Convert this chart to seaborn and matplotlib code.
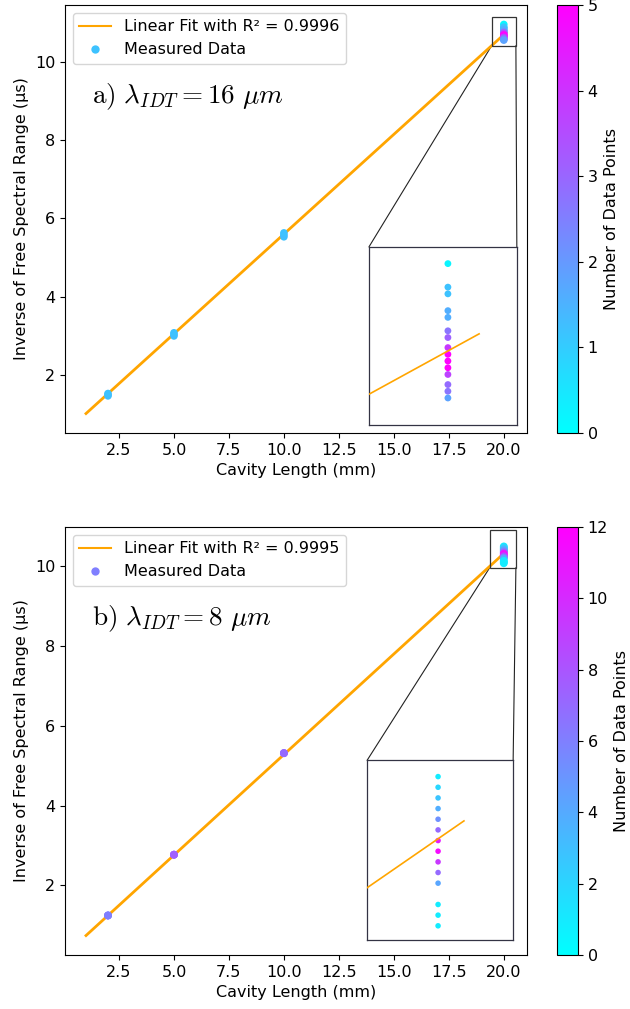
import numpy as np
import pandas as pd
import matplotlib
matplotlib.use("Agg")
import matplotlib.pyplot as plt
from matplotlib.colors import Normalize
from matplotlib.cm import ScalarMappable
from matplotlib.lines import Line2D
from matplotlib.patches import Rectangle, ConnectionPatch
import seaborn as sns

plt.rcParams["mathtext.fontset"] = "cm"
plt.rcParams["font.size"] = 11.5

# ---------------- a) lambda_IDT = 16 um ----------------
len_a = [2, 2, 2, 5, 5, 5, 10, 10, 10,
         20, 20, 20, 20, 20, 20, 20, 20, 20, 20, 20, 20, 20, 20, 20]
inv_fsr_a = [1.47, 1.50, 1.53, 3.00, 3.04, 3.08, 5.53, 5.58, 5.63,
             10.95, 10.88, 10.86, 10.81, 10.79, 10.75, 10.73, 10.70,
             10.68, 10.66, 10.64, 10.62, 10.59, 10.57, 10.55]
count_a = [1.2, 1.3, 1.2, 1.2, 1.3, 1.2, 1.2, 1.3, 1.2,
           0.2, 1.2, 1.2, 1.6, 1.6, 2.7, 3.1, 3.9, 5.0, 5.0, 5.0,
           3.7, 2.9, 2.7, 1.8]
fit_a = [0.509, 0.51]          # slope (us/mm), intercept (us)
r2_a = "0.9996"
cmax_a = 5

# ---------------- b) lambda_IDT = 8 um ----------------
len_b = [2, 2, 2, 5, 5, 5, 10, 10, 10,
         20, 20, 20, 20, 20, 20, 20, 20, 20, 20, 20, 20, 20, 20]
inv_fsr_b = [1.25, 1.25, 1.25, 2.77, 2.77, 2.77, 5.31, 5.31, 5.31,
             10.48, 10.45, 10.42, 10.39, 10.36, 10.33, 10.30, 10.27,
             10.24, 10.21, 10.18, 10.12, 10.09, 10.06]
count_b = [6.0, 6.0, 6.0, 7.5, 7.5, 7.5, 7.0, 7.0, 7.0,
           0.9, 1.9, 2.8, 3.8, 5.2, 7.0, 10.8, 11.5, 9.4, 7.0, 4.2,
           0.9, 0.9, 0.9]
fit_b = [0.503, 0.245]
r2_b = "0.9995"
cmax_b = 12

fit_span = [1.0, 20.1]          # x-range of the drawn fit line (mm)

cmap = plt.get_cmap("cool")

fig = plt.figure(figsize=(6.3, 10.09), dpi=100)
W, H = 630, 1009


def fig_rect(x0, y0, x1, y1):
    return [x0 / W, 1 - y1 / H, (x1 - x0) / W, (y1 - y0) / H]


panels = [
    dict(x=len_a, y=inv_fsr_a, c=count_a, fit=fit_a, r2=r2_a, cmax=cmax_a,
         ax=fig_rect(65, 5, 527, 433), cax=fig_rect(557, 5, 578, 433),
         tag=r"$\mathrm{a)}\ \lambda_{IDT} = 16\ \mu m$",
         ins_pos=[0.658, 0.019, 0.320, 0.416],
         ins_xlim=(19.747, 20.221), ins_ylim=(10.47, 11.0),
         box=(19.45, 10.41, 1.10, 0.73), s_main=30, s_ins=24,
         cticks=[0, 1, 2, 3, 4, 5]),
    dict(x=len_b, y=inv_fsr_b, c=count_b, fit=fit_b, r2=r2_b, cmax=cmax_b,
         ax=fig_rect(65, 527, 527, 955), cax=fig_rect(557, 527, 578, 955),
         tag=r"$\mathrm{b)}\ \lambda_{IDT} = 8\ \mu m$",
         ins_pos=[0.654, 0.035, 0.316, 0.42],
         ins_xlim=(19.726, 20.29), ins_ylim=(10.02, 10.526),
         box=(19.36, 9.95, 1.19, 0.93), s_main=32, s_ins=16,
         cticks=[0, 2, 4, 6, 8, 10, 12]),
]

for p in panels:
    ax = fig.add_axes(p["ax"])
    cax = fig.add_axes(p["cax"])
    norm = Normalize(0, p["cmax"])
    df = pd.DataFrame({"L": p["x"], "T": p["y"], "n": p["c"]})
    xs = np.array(fit_span)
    fit_df = pd.DataFrame({"L": xs, "T": p["fit"][0] * xs + p["fit"][1]})

    sns.lineplot(data=fit_df, x="L", y="T", color="orange", lw=2, ax=ax,
                 zorder=2)
    sns.scatterplot(data=df, x="L", y="T", hue="n", palette="cool",
                    hue_norm=norm, s=p["s_main"], linewidth=0, ax=ax,
                    legend=False, zorder=3)

    ax.set_xlabel("Cavity Length (mm)")
    ax.set_ylabel("Inverse of Free Spectral Range (µs)")
    ax.set_xticks([2.5, 5.0, 7.5, 10.0, 12.5, 15.0, 17.5, 20.0])

    handles = [
        Line2D([], [], color="orange", lw=1.5),
        Line2D([], [], ls="", marker="o", ms=6, mec="none",
               mfc=cmap(norm(p["c"][0]))),
    ]
    ax.legend(handles, [f"Linear Fit with R² = {p['r2']}", "Measured Data"],
              loc="upper left")
    ax.text(0.058, 0.785, p["tag"], transform=ax.transAxes, fontsize=19.5,
            va="center", ha="left")

    # zoomed view of the 20 mm cluster
    ins = ax.inset_axes(p["ins_pos"])
    sns.scatterplot(data=df, x="L", y="T", hue="n", palette="cool",
                    hue_norm=norm, s=p["s_ins"], linewidth=0, ax=ins,
                    legend=False, zorder=2)
    sns.lineplot(data=fit_df, x="L", y="T", color="orange", lw=1.2,
                 ax=ins, zorder=3)
    ins.set_xlim(*p["ins_xlim"])
    ins.set_ylim(*p["ins_ylim"])
    ins.set_xticks([])
    ins.set_yticks([])
    ins.set_xlabel("")
    ins.set_ylabel("")
    for sp in ins.spines.values():
        sp.set_color("#333344")
        sp.set_linewidth(0.9)

    bx, by, bw, bh = p["box"]
    ax.add_patch(Rectangle((bx, by), bw, bh, fill=False, ec="#333333",
                           lw=0.9, zorder=4))
    for corner, xb in (((0, 1), bx), ((1, 1), bx + bw)):
        con = ConnectionPatch(xyA=corner, coordsA=ins.transAxes,
                              xyB=(xb, by), coordsB=ax.transData,
                              color="#222222", lw=0.8)
        ax.add_artist(con)

    sm = ScalarMappable(norm=norm, cmap=cmap)
    cb = fig.colorbar(sm, cax=cax)
    cb.set_ticks(p["cticks"])
    cb.set_label("Number of Data Points")

fig.savefig("out.png", dpi=100)
